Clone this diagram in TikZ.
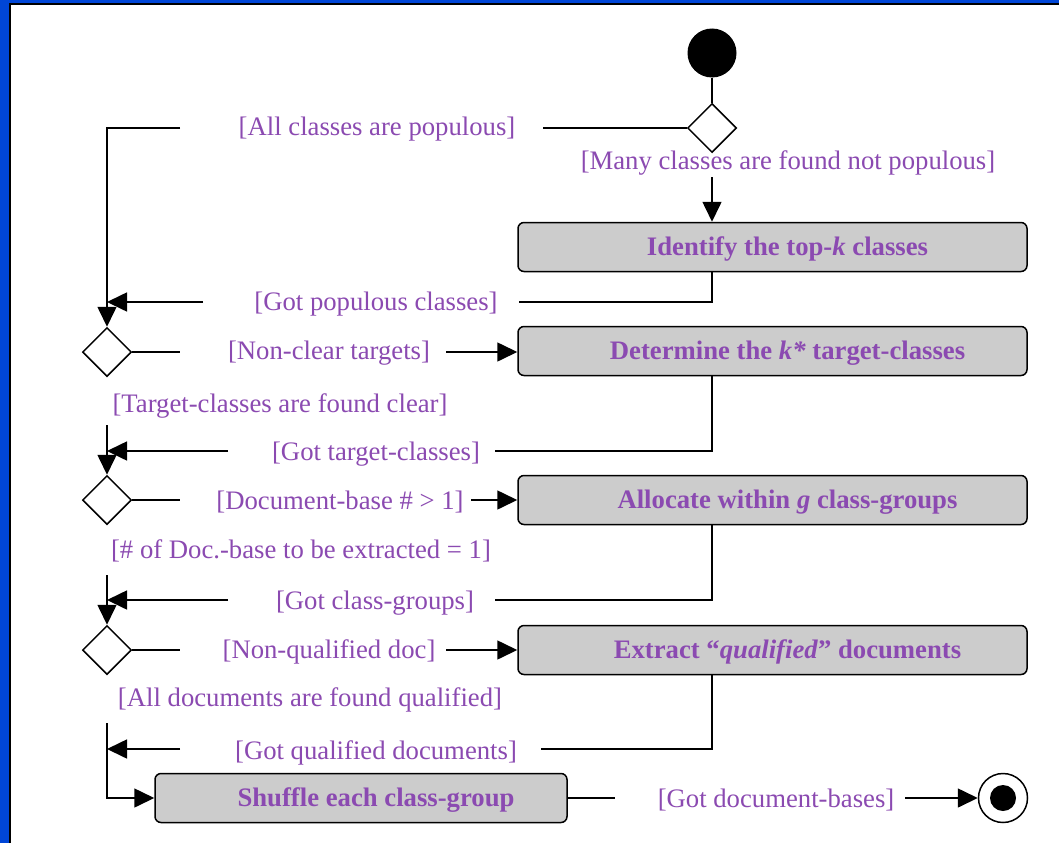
\documentclass[tikz,border=0pt]{standalone}
\usepackage{fontspec}
\setmainfont{Liberation Serif}
\usepackage{tikz}
\usetikzlibrary{arrows.meta}
\usetikzlibrary{positioning}
\usetikzlibrary{shapes.geometric}
\definecolor{guardpurple}{RGB}{139,74,177}
\definecolor{frameblue}{RGB}{0,70,215}
\definecolor{actgray}{RGB}{204,204,204}
\newcommand{\bigtext}{\fontsize{26.7}{30}\selectfont}
\tikzset{
  guard/.style={text=guardpurple, font=\bigtext, inner sep=0pt, yshift=-2.5pt},
  actbox/.style={draw, fill=actgray, line width=1.5pt, rounded corners=6pt,
      minimum width=509pt, minimum height=49pt, inner sep=0pt,
      text height=22pt, text depth=6pt,
      text=guardpurple, font=\bigtext\bfseries,
      execute at begin node={\hspace*{30pt}}},
  decision/.style={draw, diamond, fill=white, line width=1.5pt, inner sep=0pt,
      minimum width=49pt, minimum height=49pt},
  flow/.style={line width=1.6pt, -{Triangle[length=20pt,width=19pt]}},
  wire/.style={line width=1.6pt}
}

\begin{document}
\begin{tikzpicture}[x=1pt, y=-1pt]
    \useasboundingbox (0,0) rectangle (1059,843);
    \fill[frameblue] (0,0) rectangle (1059,843);
    \fill[white] (10,4) rectangle (1059,843);
    \draw[line width=1.5pt] (10,843) -- (10,4) -- (1059,4);

    \node[circle, fill=black, minimum size=49pt, inner sep=0pt] (start) at (712,53) {};
    \node[decision] (d1) at (712,128) {};
    \node[actbox] (b1) at (772.5,247) {Identify the top-\textit{k} classes};
    \node[decision] (d2) at (107,352) {};
    \node[actbox] (b2) at (772.5,351) {Determine the \textit{k*} target-classes};
    \node[decision] (d3) at (107,500) {};
    \node[actbox] (b3) at (772.5,500) {Allocate within \textit{g} class-groups};
    \node[decision] (d4) at (107,650) {};
    \node[actbox] (b4) at (772.5,650) {Extract “\textit{qualified}” documents};
    \node[actbox, minimum width=412pt] (b5) at (361,798) {Shuffle each class-group};
    \node[circle, draw, line width=1.5pt, minimum size=49pt, inner sep=0pt] (stop) at (1003,798) {};
    \fill (stop) circle (13pt);

    \node[guard] (allpop) at (377,127) {[All classes are populous]};
    \node[guard] (manynot) at (788,160) {[Many classes are found not populous]};
    \node[guard] (gotpop) at (376,302) {[Got populous classes]};
    \node[guard] (nonclear) at (329,351) {[Non-clear targets]};
    \node[guard] (clear) at (280,403) {[Target-classes are found clear]};
    \node[guard] (gottarget) at (376,452) {[Got target-classes]};
    \node[guard] (docbase) at (340,500) {[Document-base \# > 1]};
    \node[guard] (onebase) at (301,548) {[\# of Doc.-base to be extracted = 1]};
    \node[guard] (gotgroups) at (375,601) {[Got class-groups]};
    \node[guard] (nonqual) at (329,649) {[Non-qualified doc]};
    \node[guard] (allqual) at (310,697) {[All documents are found qualified]};
    \node[guard] (gotqual) at (376,750) {[Got qualified documents]};
    \node[guard] (gotbases) at (776,798) {[Got document-bases]};

    \coordinate (w1r) at (543,128);
    \coordinate (w1l) at (180,128);
    \coordinate (w2) at (712,177);
    \coordinate (w3r) at (519,302);
    \coordinate (w3l) at (203,302);
    \coordinate (w4r) at (180,352);
    \coordinate (w4l) at (446,352);
    \coordinate (w5r) at (495,451);
    \coordinate (w5l) at (228,451);
    \coordinate (w5t) at (107,425);
    \coordinate (w6r) at (180,500);
    \coordinate (w6l) at (471,500);
    \coordinate (w7r) at (495,600);
    \coordinate (w7l) at (228,600);
    \coordinate (w7t) at (107,575);
    \coordinate (w8r) at (180,650);
    \coordinate (w8l) at (446,650);
    \coordinate (w9r) at (541,749);
    \coordinate (w9l) at (180,749);
    \coordinate (w9t) at (107,723);
    \coordinate (w10r) at (615,798);
    \coordinate (w10l) at (905,798);

    \draw[wire] (start) -- (d1.north);
    \draw[wire] (d1.west) -- (w1r);
    \draw[flow] (w1l) -| (d2.north);
    \draw[flow] (w2) -- (w2 |- b1.north);
    \draw[wire] (b1.south -| w2) |- (w3r);
    \draw[flow] (w3l) -- (w3l -| d2.north);
    \draw[wire] (d2.east) -- (w4r);
    \draw[flow] (w4l) -- (b2.west |- w4l);
    \draw[wire] (b2.south -| w2) |- (w5r);
    \draw[flow] (w5l) -- (w5l -| d3.north);
    \draw[flow] (w5t) -- (d3.north);
    \draw[wire] (d3.east) -- (w6r);
    \draw[flow] (w6l) -- (b3.west |- w6l);
    \draw[wire] (b3.south -| w2) |- (w7r);
    \draw[flow] (w7l) -- (w7l -| d4.north);
    \draw[flow] (w7t) -- (d4.north);
    \draw[wire] (d4.east) -- (w8r);
    \draw[flow] (w8l) -- (b4.west |- w8l);
    \draw[wire] (b4.south -| w2) |- (w9r);
    \draw[flow] (w9l) -- (w9l -| w9t);
    \draw[flow] (w9t) |- (b5.west);
    \draw[wire] (b5.east) -- (w10r);
    \draw[flow] (w10l) -- (stop.west);
\end{tikzpicture}
\end{document}
